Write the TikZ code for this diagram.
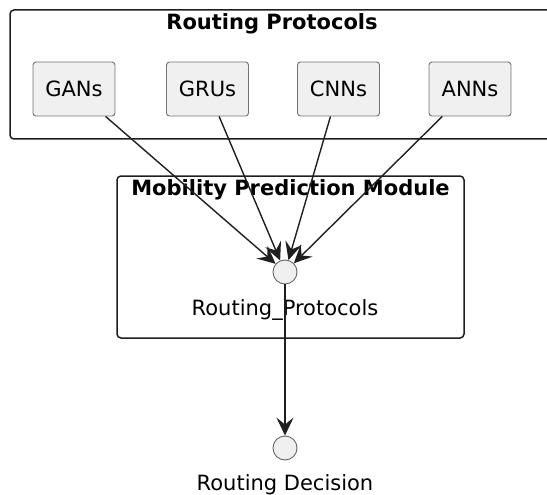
\documentclass[tikz,border=0pt]{standalone}
\usepackage{fontspec}
\setmainfont{DejaVu Sans}
\usetikzlibrary{arrows.meta, positioning}

\begin{document}
\begin{tikzpicture}[
      x=1pt, y=-1pt,
      every node/.style={font=\fontsize{21}{25}\selectfont},
      frame/.style={draw=black!88, line width=1.5pt, rounded corners=4pt},
      title/.style={font=\fontsize{21}{25}\selectfont\bfseries, anchor=base},
      netbox/.style={rectangle, draw=black!55, fill=black!6, line width=0.9pt, rounded corners=3pt, minimum width=82pt, minimum height=54pt},
      iface/.style={circle, draw=black!60, fill=black!6, line width=0.9pt, minimum size=24pt, inner sep=0pt},
      caption/.style={anchor=base},
      arrow/.style={-{Stealth[length=18pt, width=17pt, inset=7pt]}, line width=1.4pt, draw=black!88}
    ]
      \useasboundingbox (0,0) rectangle (547,495);

      % Outer package: Routing Protocols
      \draw[frame] (10,10) rectangle (562,139);
      \node[title] (rptitle) at (272,30) {Routing Protocols};

      % Row 1: networks
      \node[netbox] (gans) at (74,89) {GANs};
      \node[netbox] (grus) at (207.5,89) {GRUs};
      \node[netbox] (cnns) at (338.5,89) {CNNs};
      \node[netbox] (anns) at (470,89) {ANNs};

      % Row 2: Mobility Prediction Module
      \draw[frame] (117,176) rectangle (464,338);
      \node[title] (mptitle) at (290.5,196) {Mobility Prediction Module};
      \node[iface] (rp) at (285,272) {};
      \node[caption] (rplabel) at (285,315) {Routing\_Protocols};

      % Row 3: decision
      \node[iface] (dec) at (285,448) {};
      \node[caption] (declabel) at (285,490) {Routing Decision};

      % === ARROWS ===
      \draw[arrow] (gans) -- (rp);
      \draw[arrow] (grus) -- (rp);
      \draw[arrow] (cnns) -- (rp);
      \draw[arrow] (anns) -- (rp);
      \draw[arrow] (rp) -- (dec);
    \end{tikzpicture}
\end{document}
